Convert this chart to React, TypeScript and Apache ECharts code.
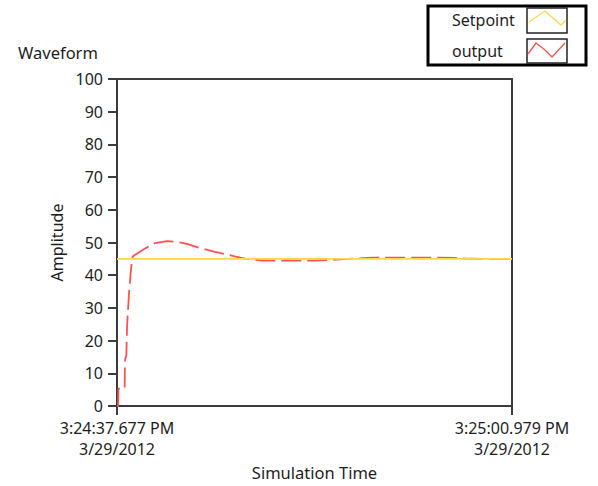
import React, { useEffect, useRef } from "react";
import * as echarts from "echarts";

// Time offsets in milliseconds from 3:24:37.677 PM
const outputTimes = [0, 70, 80, 450, 470, 550, 600, 710, 830, 910, 1000, 1240, 1600, 2240, 2950, 3500, 4130, 4900, 5780, 6490, 7000, 7550, 8000, 8550, 9500, 10500, 11700, 12700, 13600, 14400, 15100, 16500, 18000, 19000, 19900, 20500, 21500, 23302];
const outputValues = [0, 0, 5.3, 5.3, 14, 15.5, 25, 34.7, 42, 45.5, 46, 46.8, 48, 49.8, 50.4, 50.2, 49.6, 48.3, 47.1, 46.3, 45.7, 45.1, 44.8, 44.5, 44.5, 44.5, 44.5, 44.7, 45.0, 45.2, 45.4, 45.4, 45.4, 45.4, 45.3, 45.1, 45.0, 45.0];
const setpointTimes = [0, 23302];
const setpointValues = [45, 45];
const xStart = 0;
const xEnd = 23302;
const xTickLabels = ["3:24:37.677 PM\n3/29/2012", "3:25:00.979 PM\n3/29/2012"];
const legendNames = ["Setpoint", "output"];
const yMin = 0;
const yMax = 100;
const yStep = 10;

const FONT = "'Noto Sans', sans-serif";
const TXT = "#1e1e1e";
const AXIS = "#3c3c3c";
const YELLOW = "#FFD84A";
const RED = "#FF5252";

export default function App() {
  const ref = useRef<HTMLDivElement>(null);
  useEffect(() => {
    if (!ref.current) return;
    const chart = echarts.init(ref.current, null, { renderer: "svg" });
    const outData = outputTimes.map((t, i) => [t, outputValues[i]]);
    const spData = setpointTimes.map((t, i) => [t, setpointValues[i]]);
    chart.setOption({
      animation: false,
      backgroundColor: "#ffffff",
      title: {
        text: "Waveform",
        left: 13,
        top: 39,
        textStyle: { fontFamily: FONT, fontSize: 16.5, fontWeight: "normal", color: TXT },
      },
      grid: {
        left: 117,
        top: 79,
        right: 86,
        bottom: 77,
        show: true,
        borderColor: AXIS,
        borderWidth: 2,
        backgroundColor: "#ffffff",
      },
      xAxis: {
        type: "value",
        min: xStart,
        max: xEnd,
        interval: xEnd - xStart,
        name: "Simulation Time",
        nameLocation: "middle",
        nameGap: 58,
        nameTextStyle: { fontFamily: FONT, fontSize: 16.5, color: TXT },
        axisLine: { show: true, lineStyle: { color: AXIS, width: 2 } },
        axisTick: { show: true, length: 9, lineStyle: { color: AXIS, width: 2 } },
        splitLine: { show: false },
        axisLabel: {
          showMinLabel: true,
          showMaxLabel: true,
          margin: 11,
          fontFamily: FONT,
          fontSize: 16,
          color: TXT,
          lineHeight: 21,
          formatter: (v: number) => (v <= xStart ? xTickLabels[0] : xTickLabels[1]),
        },
      },
      yAxis: {
        type: "value",
        min: yMin,
        max: yMax,
        interval: yStep,
        name: "Amplitude",
        nameLocation: "middle",
        nameRotate: 90,
        nameGap: 46,
        nameTextStyle: { fontFamily: FONT, fontSize: 16, color: TXT },
        axisLine: { show: true, lineStyle: { color: AXIS, width: 2 } },
        axisTick: { show: true, length: 9, lineStyle: { color: AXIS, width: 2 } },
        splitLine: { show: false },
        axisLabel: { margin: 14, fontFamily: FONT, fontSize: 16, color: TXT },
      },
      series: [
        {
          name: legendNames[1],
          type: "line",
          data: outData,
          showSymbol: false,
          z: 2,
          lineStyle: { color: RED, width: 1.8, type: [20, 6] },
        },
        {
          name: legendNames[0],
          type: "line",
          data: spData,
          showSymbol: false,
          z: 3,
          lineStyle: { color: YELLOW, width: 1.8 },
        },
      ],
      graphic: [
        {
          type: "rect",
          shape: { x: 428, y: 6, width: 158, height: 59 },
          style: { fill: "#ffffff", stroke: "#000000", lineWidth: 3 },
        },
        {
          type: "text",
          x: 452,
          y: 20,
          style: { text: legendNames[0], fontFamily: FONT, fontSize: 16, fill: TXT, verticalAlign: "middle", align: "left" },
        },
        {
          type: "text",
          x: 452,
          y: 51,
          style: { text: legendNames[1], fontFamily: FONT, fontSize: 16, fill: TXT, verticalAlign: "middle", align: "left" },
        },
        {
          type: "rect",
          shape: { x: 527, y: 8, width: 40, height: 25 },
          style: { fill: "#ffffff", stroke: "#222222", lineWidth: 1.5 },
        },
        {
          type: "rect",
          shape: { x: 527, y: 39, width: 40, height: 24 },
          style: { fill: "#ffffff", stroke: "#222222", lineWidth: 1.5 },
        },
        {
          type: "polyline",
          shape: { points: [[529, 22], [545, 11], [561, 25], [566, 20]] },
          style: { stroke: YELLOW, lineWidth: 1.3, fill: "none" },
        },
        {
          type: "polyline",
          shape: { points: [[528, 54], [536, 43], [545, 50], [552, 57], [565, 43]] },
          style: { stroke: RED, lineWidth: 1.3, fill: "none" },
        },
      ],
    });
    return () => chart.dispose();
  }, []);
  return (
    <div
      ref={ref}
      style={{ position: "fixed", left: 0, top: 0, width: 598, height: 486 }}
    />
  );
}
